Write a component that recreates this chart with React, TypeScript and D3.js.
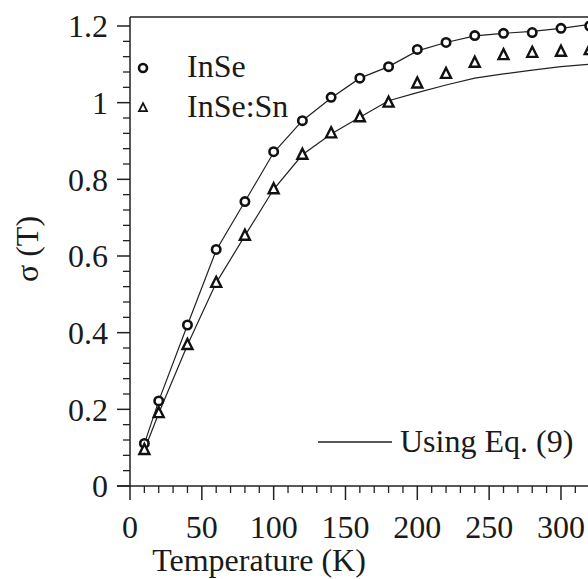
import * as d3 from 'd3'

const W = 588
const H = 579

const temps = [10, 20, 40, 60, 80, 100, 120, 140, 160, 180, 200, 220, 240, 260, 280, 300, 320]
const inse = [0.111, 0.222, 0.42, 0.617, 0.742, 0.872, 0.953, 1.014, 1.064, 1.094, 1.139, 1.157, 1.175, 1.181, 1.183, 1.194, 1.2]
const inseSn = [0.094, 0.19, 0.368, 0.53, 0.653, 0.774, 0.864, 0.92, 0.962, 1.0, 1.05, 1.075, 1.104, 1.124, 1.13, 1.133, 1.137]

// Eq. (9) curves
const fitInse = [0.11, 0.222, 0.42, 0.615, 0.742, 0.87, 0.953, 1.012, 1.064, 1.094, 1.135, 1.157, 1.174, 1.181, 1.186, 1.194, 1.204]
const fitSn = [0.094, 0.19, 0.368, 0.53, 0.653, 0.774, 0.864, 0.918, 0.962, 1.005, 1.026, 1.046, 1.064, 1.075, 1.085, 1.094, 1.1]

const xMajor = [0, 50, 100, 150, 200, 250, 300]
const yMajor = [0, 0.2, 0.4, 0.6, 0.8, 1, 1.2]

export default function App() {
  const x = d3.scaleLinear().domain([0, 320]).range([130, 589.7])
  const y = d3.scaleLinear().domain([0, 1.2]).range([486, 26])
  const top = 17

  const xMinor = d3.range(0, 321, 10).filter(v => v % 50 !== 0)
  const yMinor = d3.range(0, 1.21, 0.04).filter(v => Math.abs(v / 0.2 - Math.round(v / 0.2)) > 0.01)

  const line = d3.line<number>().x((_, i) => x(temps[i])).y(d => y(d))

  const tri = (cx: number, cy: number, s: number) =>
    `M${cx},${cy - s * 0.6}L${cx + s * 0.5},${cy + s * 0.4}L${cx - s * 0.5},${cy + s * 0.4}Z`

  return (
    <div style={{ position: 'absolute', left: 0, top: 0, fontFamily: 'Liberation Serif' }}>
      <svg width={W} height={H} style={{ display: 'block', background: '#fff' }}>
        {/* frame */}
        <line x1={130} x2={130} y1={top} y2={486} stroke="#222" strokeWidth={1.5} />
        <line x1={130} x2={W} y1={top} y2={top} stroke="#222" strokeWidth={1.5} />
        <line x1={117} x2={W} y1={486} y2={486} stroke="#222" strokeWidth={1.5} />

        <g fontFamily="Liberation Serif" fontSize={32} fill="#1a1a1a">
          {/* y ticks */}
          {yMajor.map(v => (
            <text key={'yl' + v} x={108} y={y(v)} dy="0.35em" textAnchor="end">{v}</text>
          ))}
          {/* x ticks */}
          {xMajor.map(v => (
            <text key={'xl' + v} x={x(v)} y={538} textAnchor="middle">{v}</text>
          ))}
          {/* axis titles */}
          <text x={259} y={571} textAnchor="middle">Temperature (K)</text>
          <text transform="translate(38,249) rotate(-90)" textAnchor="middle">σ (T)</text>
          {/* legend */}
          <text x={187} y={77}>InSe</text>
          <text x={187} y={117}>InSe:Sn</text>
          <text x={400} y={452}>Using Eq. (9)</text>
        </g>

        {yMajor.map(v => (
          <line key={'ym' + v} x1={117} x2={130} y1={y(v)} y2={y(v)} stroke="#222" strokeWidth={1.5} />
        ))}
        {yMinor.map(v => (
          <line key={'yn' + v} x1={123} x2={130} y1={y(v)} y2={y(v)} stroke="#222" strokeWidth={1.3} />
        ))}
        {xMajor.map(v => (
          <line key={'xm' + v} x1={x(v)} x2={x(v)} y1={486} y2={500} stroke="#222" strokeWidth={1.5} />
        ))}
        {xMinor.map(v => (
          <line key={'xn' + v} x1={x(v)} x2={x(v)} y1={486} y2={493} stroke="#222" strokeWidth={1.3} />
        ))}

        {/* Eq. (9) curves */}
        <path d={line(fitInse) ?? ''} fill="none" stroke="#222" strokeWidth={1.2} />
        <path d={line(fitSn) ?? ''} fill="none" stroke="#222" strokeWidth={1.2} />

        {/* data */}
        {inse.map((v, i) => (
          <circle key={'c' + i} cx={x(temps[i])} cy={y(v)} r={4.2} fill="#fff" stroke="#111" strokeWidth={2.6} />
        ))}
        {inseSn.map((v, i) => (
          <path key={'t' + i} d={tri(x(temps[i]), y(v), 10)} fill="#fff" stroke="#111" strokeWidth={2.4} />
        ))}

        {/* legend marks */}
        <circle cx={143} cy={68} r={4} fill="#fff" stroke="#111" strokeWidth={2.6} />
        <path d={tri(143, 108, 8)} fill="#fff" stroke="#111" strokeWidth={1.8} />
        <line x1={318} x2={392} y1={442} y2={442} stroke="#222" strokeWidth={1.5} />
      </svg>
    </div>
  )
}
